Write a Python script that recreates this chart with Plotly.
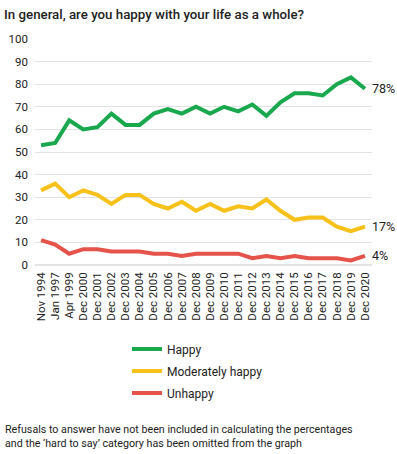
import plotly.graph_objects as go

categories = ["Nov 1994", "Jan 1997", "Apr 1999"] + [f"Dec {y}" for y in range(2000, 2021)]
happy = [53, 54, 64, 60, 61, 67, 62, 62, 67, 69, 67, 70, 67, 70, 68, 71, 66, 72, 76, 76, 75, 80, 83, 78]
moderately = [33, 36, 30, 33, 31, 27, 31, 31, 27, 25, 28, 24, 27, 24, 26, 25, 29, 24, 20, 21, 21, 17, 15, 17]
unhappy = [11, 9, 5, 7, 7, 6, 6, 6, 5, 5, 4, 5, 5, 5, 5, 3, 4, 3, 4, 3, 3, 3, 2, 4]
series_names = ["Happy", "Moderately happy", "Unhappy"]
colors = ["#19a84e", "#f7c11a", "#e5534b"]
y_ticks = list(range(0, 101, 10))

FONT = "Roboto, Liberation Sans, sans-serif"

fig = go.Figure()
for i, (name, vals, col) in enumerate(zip(series_names, [happy, moderately, unhappy], colors)):
    fig.add_trace(go.Scatter(
        x=categories, y=vals, mode="lines", name=name,
        line=dict(color=col, width=4), legendgroup=name,
    ))
    fig.add_annotation(
        x=categories[-1], y=vals[-1], text=f"{vals[-1]}%", showarrow=False,
        xanchor="left", xshift=5, font=dict(size=12.5, color="#222", family=FONT),
    )

fig.update_layout(
    width=397, height=454,
    margin=dict(l=35, r=25, t=39, b=189, autoexpand=False),
    paper_bgcolor="white", plot_bgcolor="white",
    font=dict(family=FONT, color="#222"),
    title=dict(text="In general, are you happy with your life as a whole?",
               x=0.0, xanchor="left", xref="container", pad=dict(l=4),
               y=0.969, yanchor="middle", yref="container", automargin=False,
               font=dict(size=13.3, color="#222", family=FONT, weight=500)),
    xaxis=dict(type="category", range=[-0.43, 23.5], tickangle=-90,
               tickmode="array", tickvals=categories, ticktext=categories,
               showgrid=False, showline=False, ticks="", automargin=False,
               ticklabelstandoff=4,
               tickfont=dict(size=11.5, color="#222", family=FONT)),
    yaxis=dict(range=[0, 100], tickvals=y_ticks, showgrid=True, gridcolor="#e3e3e3",
               zeroline=True, zerolinecolor="#e3e3e3", ticks="", automargin=False,
               tickfont=dict(size=11.5, color="#222", family=FONT), ticklabelstandoff=6),
    showlegend=True,
    legend=dict(orientation="v", x=0.273, xanchor="left", y=-0.308, yanchor="top",
                traceorder="grouped", tracegroupgap=3,
                font=dict(size=12, color="#222", family=FONT), itemwidth=30),
)

fig.add_annotation(
    xref="paper", yref="paper", x=-0.095, y=-0.69, xanchor="left", yanchor="top",
    align="left", showarrow=False,
    text="Refusals to answer have not been included in calculating the percentages<br>and the \u2018hard to say\u2019 category has been omitted from the graph",
    font=dict(size=10.7, color="#222", family=FONT),
)

fig.write_html("out.html", config={"displayModeBar": False},
               post_script="document.body.style.margin='0';")
